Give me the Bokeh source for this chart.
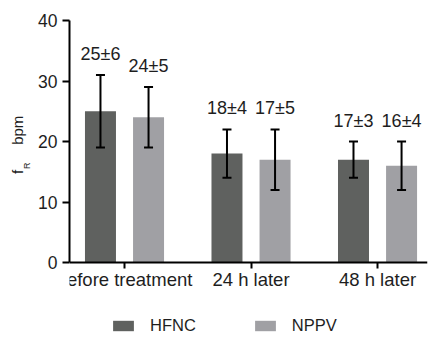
from bokeh.plotting import figure
from bokeh.models import (ColumnDataSource, Range1d, FixedTicker, Whisker, TeeHead,
                          Legend, LegendItem, Title)
from bokeh.transform import dodge
from bokeh.core.properties import value
from bokeh.embed import file_html
from bokeh.resources import INLINE

groups = ["before treatment", "24 h later", "48 h later"]
series = ["HFNC", "NPPV"]
hfnc_mean = [25, 18, 17]
hfnc_sd = [6, 4, 3]
nppv_mean = [24, 17, 16]
nppv_sd = [5, 5, 4]
y_ticks = [0, 10, 20, 30, 40]

colors = {"HFNC": "#5f615f", "NPPV": "#a0a0a4"}
FONT = "Liberation Sans"
TXT = "#1e1e1e"
NB = "\u00a0"

# frame spans from y=40 (top) down to the bottom of the canvas; the
# value axis is bounded to 0..40 and the category axis sits at y=0
p = figure(width=428, height=338, output_backend="svg", toolbar_location=None,
           x_range=Range1d(-0.4348, 2.395), y_range=Range1d(-12.56, 40),
           x_axis_location="above",
           min_border_left=69, min_border_right=1, min_border_top=20, min_border_bottom=0)
p.outline_line_color = None
p.xgrid.visible = False
p.ygrid.visible = False

pos = list(range(len(groups)))
legend_items = []
for name, means, sds, off in [("HFNC", hfnc_mean, hfnc_sd, -0.19), ("NPPV", nppv_mean, nppv_sd, 0.19)]:
    src = ColumnDataSource(dict(
        x=pos, top=means,
        upper=[m + s for m, s in zip(means, sds)],
        lower=[m - s for m, s in zip(means, sds)],
        label=[f"{m}±{s}" for m, s in zip(means, sds)],
    ))
    r = p.vbar(x=dodge("x", off, range=p.x_range), top="top", bottom=0, width=0.245,
               source=src, fill_color=colors[name], line_color=None)
    legend_items.append(LegendItem(label=name, renderers=[r]))
    w = Whisker(base=dodge("x", off, range=p.x_range), upper="upper", lower="lower", source=src,
                line_color="black", line_width=2, level="annotation",
                upper_head=TeeHead(size=9, line_width=2, line_color="black"),
                lower_head=TeeHead(size=9, line_width=2, line_color="black"))
    p.add_layout(w)
    p.text(x=dodge("x", off, range=p.x_range), y="upper", text="label", source=src,
           text_font=value(FONT), text_font_size="18px", text_color=TXT,
           text_align="center", text_baseline="middle", y_offset=-21)

for ax in (p.xaxis[0], p.yaxis[0]):
    ax.axis_line_width = 2
    ax.axis_line_color = "black"
    ax.major_tick_line_width = 2
    ax.major_tick_line_color = "black"
    ax.minor_tick_line_color = None
    ax.major_label_text_font = FONT
    ax.major_label_text_color = TXT

# category axis drawn at y=0, ticks pointing down, labels below the line
xa = p.xaxis[0]
xa.fixed_location = 0
xa.ticker = FixedTicker(ticks=pos)
xa.major_label_overrides = {i: g for i, g in enumerate(groups)}
xa.major_label_text_font_size = "18.5px"
xa.major_tick_out = 0
xa.major_tick_in = 6
xa.major_label_standoff = -27
xa.axis_label = NB
xa.axis_label_text_font_size = "8px"
xa.axis_label_standoff = 12

ya = p.yaxis[0]
ya.bounds = (0, 40)
ya.ticker = FixedTicker(ticks=y_ticks)
ya.major_label_text_font_size = "17.5px"
ya.major_tick_in = 0
ya.major_tick_out = 7
ya.major_label_standoff = 5

# y-axis title "f_R bpm": subscript R as the axis label, "f  bpm" as a side title
ya.axis_label = NB * 11 + "R"
ya.axis_label_text_font = FONT
ya.axis_label_text_font_size = "9px"
ya.axis_label_text_font_style = "normal"
ya.axis_label_text_color = TXT
ya.axis_label_standoff = 3
p.add_layout(Title(text="f" + NB * 6 + "bpm", text_font=FONT, text_font_size="15px",
                   text_font_style="normal", text_color=TXT, align="left", offset=164.5,
                   vertical_align="bottom", standoff=-13), "left")

legend = Legend(items=legend_items, orientation="horizontal", location=(41, 3),
                glyph_width=26, glyph_height=13, label_standoff=14, spacing=56,
                padding=0, margin=0, border_line_color=None, background_fill_alpha=0,
                label_text_font=FONT, label_text_font_size="16.5px", label_text_color=TXT,
                label_height=13)
p.add_layout(legend, "center")

open("out.html", "w").write(file_html(p, INLINE))
